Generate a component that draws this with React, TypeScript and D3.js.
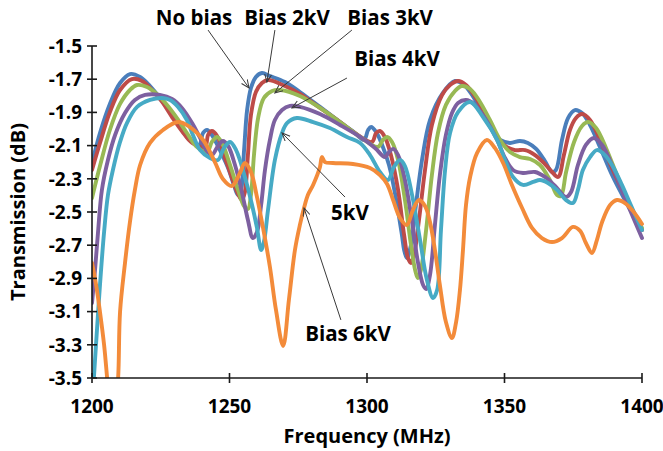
import React from 'react';
import * as d3 from 'd3';

// ---------- data ----------
const xTicks = [1200, 1250, 1300, 1350, 1400];
const yTicks = [-1.5, -1.7, -1.9, -2.1, -2.3, -2.5, -2.7, -2.9, -3.1, -3.3, -3.5];

const noBias: [number, number][] = [
  [1200, -2.205], [1202.9, -2.024], [1206.5, -1.849], [1210.2, -1.723], [1213.8, -1.669], [1217.5, -1.687],
  [1221.1, -1.741], [1224.7, -1.813], [1228.4, -1.898], [1232, -1.988], [1235.6, -2.066], [1238.9, -2.096],
  [1240.4, -2.024], [1241.8, -2.006], [1243.6, -2.036], [1246.5, -2.127], [1249.5, -2.235], [1251.6, -2.337],
  [1253.1, -2.398], [1254.2, -2.367], [1255.3, -2.127], [1256.4, -1.886], [1257.8, -1.753], [1259.6, -1.687],
  [1261.8, -1.663], [1264.7, -1.681], [1270.2, -1.717], [1275.6, -1.777], [1282.9, -1.867], [1290.2, -1.958],
  [1295.6, -2.024], [1298.9, -2.066], [1300.4, -2.006], [1301.5, -1.988], [1303.3, -2.018], [1305.5, -2.096],
  [1308, -2.217], [1310.5, -2.416], [1312.7, -2.639], [1313.5, -2.729], [1314.5, -2.777], [1316, -2.699],
  [1317.8, -2.458], [1320, -2.187], [1322.9, -1.946], [1327.6, -1.783], [1332, -1.711], [1334.9, -1.729],
  [1338.2, -1.795], [1341.8, -1.898], [1345.5, -2.006], [1348.4, -2.066], [1352, -2.084], [1355.6, -2.072],
  [1358.5, -2.084], [1361.5, -2.12], [1364.7, -2.193], [1367.3, -2.259], [1368.7, -2.247], [1370.9, -2.066],
  [1373.1, -1.934], [1375.6, -1.886], [1378.2, -1.904], [1381.1, -1.976], [1384.7, -2.108], [1389.1, -2.277],
  [1393.8, -2.428], [1397.5, -2.536], [1400, -2.608],
];

const bias2kV: [number, number][] = [
  [1200, -2.247], [1202.9, -2.084], [1206.5, -1.898], [1210.2, -1.765], [1214.5, -1.699], [1218.2, -1.711],
  [1221.8, -1.765], [1225.5, -1.837], [1229.1, -1.928], [1232.7, -2.012], [1236.4, -2.084], [1241.1, -2.108],
  [1242.2, -2.036], [1243.6, -2.012], [1245.5, -2.042], [1248, -2.157], [1250.9, -2.295], [1253.1, -2.392],
  [1254.5, -2.428], [1255.6, -2.38], [1256.7, -2.157], [1257.8, -1.916], [1259.6, -1.777], [1261.8, -1.723],
  [1264, -1.705], [1270.2, -1.741], [1275.6, -1.789], [1282.9, -1.873], [1290.2, -1.958], [1295.6, -2.024],
  [1301.8, -2.078], [1303.3, -2.024], [1304.7, -2.012], [1306.5, -2.048], [1308.7, -2.157], [1311.3, -2.367],
  [1313.5, -2.639], [1314.9, -2.777], [1316, -2.807], [1317.1, -2.759], [1318.9, -2.548], [1321.1, -2.247],
  [1323.6, -1.976], [1327.3, -1.795], [1330.2, -1.735], [1333.1, -1.711], [1336, -1.735], [1339.6, -1.813],
  [1343.3, -1.922], [1346.9, -2.036], [1350.2, -2.102], [1353.8, -2.127], [1357.5, -2.127], [1361.1, -2.157],
  [1364.7, -2.211], [1367.3, -2.259], [1369.5, -2.289], [1371.6, -2.157], [1373.8, -2.006], [1376, -1.934],
  [1378.2, -1.91], [1381.1, -1.946], [1384.7, -2.066], [1389.1, -2.235], [1393.8, -2.404], [1400, -2.608],
];

const bias3kV: [number, number][] = [
  [1200, -2.416], [1202.9, -2.223], [1206.5, -2.006], [1210.2, -1.849], [1213.8, -1.765], [1216.4, -1.735],
  [1220, -1.747], [1223.6, -1.789], [1227.3, -1.855], [1230.9, -1.934], [1234.5, -2.024], [1237.8, -2.102],
  [1241.8, -2.139], [1243.6, -2.078], [1245.5, -2.048], [1247.3, -2.084], [1250.2, -2.217], [1253.1, -2.367],
  [1255.3, -2.464], [1256.7, -2.482], [1257.8, -2.398], [1258.9, -2.157], [1260.4, -1.934], [1262.5, -1.813],
  [1265.5, -1.771], [1268.4, -1.765], [1275.6, -1.801], [1282.9, -1.873], [1290.2, -1.958], [1297.5, -2.048],
  [1304, -2.108], [1305.8, -2.066], [1307.3, -2.048], [1309.1, -2.078], [1311.3, -2.187], [1313.8, -2.428],
  [1316, -2.699], [1317.5, -2.849], [1318.5, -2.898], [1319.6, -2.849], [1321.5, -2.608], [1323.6, -2.277],
  [1325.8, -2.024], [1328.7, -1.855], [1332, -1.771], [1334.5, -1.741], [1337.5, -1.759], [1341.1, -1.837],
  [1344.7, -1.946], [1348.4, -2.066], [1352, -2.139], [1355.6, -2.169], [1359.3, -2.181], [1362.9, -2.217],
  [1366.5, -2.307], [1369.1, -2.398], [1370.5, -2.404], [1372.4, -2.259], [1375.3, -2.078], [1378.2, -1.982],
  [1380.4, -1.958], [1383.3, -1.994], [1386.9, -2.114], [1391.3, -2.295], [1395.6, -2.458], [1400, -2.596],
];

const bias4kV: [number, number][] = [
  [1200, -3.048], [1201.1, -2.849], [1202.2, -2.62], [1203.6, -2.367], [1205.8, -2.187], [1208.4, -2.036],
  [1212, -1.904], [1215.6, -1.825], [1219.3, -1.795], [1224.7, -1.795], [1229.1, -1.819], [1232.7, -1.873],
  [1236.4, -1.964], [1239.3, -2.054], [1241.5, -2.127], [1243.6, -2.157], [1245.8, -2.102], [1247.6, -2.072],
  [1249.5, -2.102], [1252, -2.217], [1254.5, -2.38], [1256.7, -2.548], [1258.5, -2.657], [1260, -2.62],
  [1261.5, -2.458], [1262.9, -2.247], [1264.7, -2.066], [1266.5, -1.946], [1269.1, -1.886], [1272, -1.861],
  [1275.6, -1.867], [1282.9, -1.91], [1290.2, -1.976], [1297.5, -2.048], [1302.9, -2.114], [1306.5, -2.169],
  [1308, -2.139], [1309.5, -2.12], [1311.3, -2.157], [1313.8, -2.307], [1316.4, -2.56], [1318.5, -2.801],
  [1320.4, -2.94], [1321.5, -2.964], [1322.9, -2.88], [1324.7, -2.578], [1326.5, -2.277], [1328.7, -2.036],
  [1330.9, -1.904], [1333.1, -1.843], [1336, -1.825], [1338.9, -1.849], [1342.9, -1.934], [1347.3, -2.066],
  [1350.2, -2.175], [1353.1, -2.247], [1356.7, -2.265], [1361.1, -2.259], [1364.7, -2.289], [1368.4, -2.343],
  [1372.4, -2.41], [1374.2, -2.38], [1376.7, -2.217], [1379.6, -2.096], [1382.5, -2.054], [1385.5, -2.096],
  [1389.1, -2.217], [1393.8, -2.416], [1397.5, -2.56], [1400, -2.657],
];

const bias5kV: [number, number][] = [
  [1200.3, -3.6], [1201.8, -3.211], [1202.9, -2.94], [1204.4, -2.62], [1205.8, -2.398], [1207.6, -2.247],
  [1210.2, -2.078], [1212.7, -1.964], [1216.4, -1.867], [1221.1, -1.825], [1225.5, -1.813], [1228.4, -1.825],
  [1231.3, -1.867], [1234.5, -1.946], [1236.7, -2.036], [1239.3, -2.127], [1242.9, -2.175], [1245.8, -2.187],
  [1248, -2.114], [1250.2, -2.078], [1252.4, -2.127], [1255.6, -2.289], [1258.2, -2.458], [1260, -2.596],
  [1261.5, -2.729], [1262.5, -2.681], [1264, -2.488], [1266.5, -2.187], [1269.1, -2.024], [1270.9, -1.964],
  [1274.5, -1.934], [1280.4, -1.958], [1286.5, -1.994], [1292.7, -2.048], [1297.5, -2.084], [1301.1, -2.157],
  [1304.7, -2.259], [1307.6, -2.307], [1309.8, -2.229], [1312, -2.187], [1313.8, -2.223], [1316.4, -2.398],
  [1319.3, -2.669], [1321.8, -2.91], [1324, -3.018], [1325.5, -2.97], [1326.9, -2.608], [1328.4, -2.247],
  [1330.2, -2.024], [1333.1, -1.898], [1337.5, -1.837], [1342.2, -1.928], [1347.3, -2.066], [1350.2, -2.187],
  [1353.1, -2.289], [1356.7, -2.337], [1360.4, -2.319], [1362.9, -2.307], [1365.8, -2.325], [1369.1, -2.367],
  [1372.4, -2.428], [1374.9, -2.446], [1376.7, -2.367], [1378.5, -2.247], [1381.1, -2.169], [1383.6, -2.127],
  [1386.5, -2.157], [1389.5, -2.229], [1392.7, -2.337], [1395.6, -2.446], [1400, -2.608],
];

const bias6kV: [number, number][] = [
  [1200, -2.807], [1201.5, -2.94], [1202.9, -3.102], [1204.4, -3.301], [1205.5, -3.5], [1206.5, -3.693],
  [1208.4, -3.693], [1209.5, -3.5], [1210.2, -3.102], [1212, -2.807], [1213.8, -2.56], [1215.6, -2.367],
  [1217.5, -2.217], [1221.1, -2.084], [1225.8, -2.006], [1231.3, -1.958], [1235.6, -1.988], [1240.4, -2.066],
  [1244.7, -2.199], [1247.6, -2.301], [1250.9, -2.343], [1253.8, -2.265], [1255.6, -2.205], [1257.8, -2.259],
  [1260, -2.41], [1262.2, -2.596], [1264.7, -2.831], [1266.9, -3.09], [1269.5, -3.307], [1271.6, -3.03],
  [1273.8, -2.729], [1275.6, -2.578], [1277.1, -2.476], [1278.5, -2.398], [1280.4, -2.337], [1282.9, -2.229],
  [1283.6, -2.169], [1284.7, -2.199], [1287.6, -2.205], [1294.9, -2.211], [1301.1, -2.235], [1304.7, -2.277],
  [1307.3, -2.331], [1309.5, -2.428], [1312, -2.536], [1314.5, -2.578], [1316.7, -2.488], [1318.9, -2.428],
  [1321.1, -2.464], [1322.9, -2.56], [1324.7, -2.729], [1326.5, -2.94], [1328.7, -3.163], [1330.9, -3.259],
  [1332.4, -3.163], [1333.8, -2.97], [1334.9, -2.729], [1336, -2.458], [1337.5, -2.289], [1340, -2.145],
  [1343.6, -2.066], [1346.5, -2.114], [1349.5, -2.205], [1352.7, -2.337], [1356.4, -2.476], [1360, -2.596],
  [1363.6, -2.657], [1367.3, -2.681], [1370.9, -2.657], [1374.9, -2.59], [1377.5, -2.614], [1379.6, -2.687],
  [1381.8, -2.747], [1383.6, -2.669], [1385.5, -2.56], [1388.4, -2.458], [1390.9, -2.428], [1393.8, -2.446],
  [1396.7, -2.494], [1400, -2.572],
];

const seriesNames = ['No bias', 'Bias 2kV', 'Bias 3kV', 'Bias 4kV', 'Bias 5kV', 'Bias 6kV'];
const seriesData = [noBias, bias2kV, bias3kV, bias4kV, bias5kV, bias6kV];
const seriesColors = ['#4A7EBB', '#BE4B48', '#98B954', '#7D60A0', '#46AAC5', '#F38B3A'];

// annotation labels: text, text anchor (freq, dB), arrow start (freq, dB), arrow end (freq, dB)
const annotationLabels = ['No bias', 'Bias 2kV', 'Bias 3kV', 'Bias 4kV', '5kV', 'Bias 6kV'];
const annotationText: [number, number][] = [
  [1237.1, -1.373], [1270.9, -1.373], [1308.4, -1.373], [1310.9, -1.62], [1293.8, -2.548], [1293.1, -3.277],
];
const annotationFrom: [number, number][] = [
  [1242.2, -1.404], [1266.5, -1.404], [1294.5, -1.404], [1292.7, -1.693], [1292, -2.41], [1290.5, -3.15],
];
const annotationTo: [number, number][] = [
  [1257.1, -1.753], [1263.6, -1.717], [1266.5, -1.783], [1272.7, -1.873], [1269.1, -2.024], [1277.1, -2.476],
];

export default function App() {
  const W = 663;
  const H = 451;
  const left = 92, right = 642, top = 46, bottom = 378;
  const x = d3.scaleLinear().domain([1200, 1400]).range([left, right]);
  const y = d3.scaleLinear().domain([-3.5, -1.5]).range([bottom, top]);
  const line = d3
    .line<[number, number]>()
    .x((d) => x(d[0]))
    .y((d) => y(d[1]))
    .curve(d3.curveCatmullRom.alpha(0.5));

  const font = "'Open Sans', 'Noto Sans', sans-serif";
  const axisColor = '#1a1a1a';
  const arrowColor = '#3a3a3a';

  return (
    <svg
      width={W}
      height={H}
      viewBox={`0 0 ${W} ${H}`}
      style={{ position: 'absolute', left: 0, top: 0, display: 'block', background: '#fff' }}
    >
      <defs>
        <clipPath id="plotClip">
          <rect x={left} y={top - 10} width={right - left + 2} height={bottom - top + 10} />
        </clipPath>
        <marker
          id="arrowHead"
          markerWidth={10}
          markerHeight={10}
          refX={8}
          refY={4}
          orient="auto"
          markerUnits="userSpaceOnUse"
        >
          <path d="M0,0.5 L8,4 L0,7.5" fill="none" stroke={arrowColor} strokeWidth={1} />
        </marker>
      </defs>

      <rect x={0} y={0} width={W} height={H} fill="#fff" />

      {/* series */}
      <g clipPath="url(#plotClip)">
        {seriesData.map((s, i) => (
          <path
            key={seriesNames[i]}
            d={line(s) || ''}
            fill="none"
            stroke={seriesColors[i]}
            strokeWidth={3.9}
            strokeLinejoin="round"
            strokeLinecap="round"
          />
        ))}
      </g>

      {/* axes */}
      <line x1={left} y1={top} x2={left} y2={bottom} stroke={axisColor} strokeWidth={1.6} />
      <line x1={left} y1={bottom} x2={right} y2={bottom} stroke={axisColor} strokeWidth={1.6} />
      {yTicks.map((t) => (
        <g key={`y${t}`}>
          <line x1={left - 5} x2={left + 5} y1={y(t)} y2={y(t)} stroke={axisColor} strokeWidth={1.6} />
          <text
            x={left - 10}
            y={y(t)}
            dy="0.36em"
            textAnchor="end"
            fontFamily={font}
            fontWeight={700}
            fontSize={19}
            fill="#000"
          >
            {t.toFixed(1)}
          </text>
        </g>
      ))}
      {xTicks.map((t) => (
        <g key={`x${t}`}>
          <line x1={x(t)} x2={x(t)} y1={bottom - 5} y2={bottom + 5} stroke={axisColor} strokeWidth={1.6} />
          <text
            x={x(t)}
            y={bottom + 35}
            textAnchor="middle"
            fontFamily={font}
            fontWeight={700}
            fontSize={19}
            fill="#000"
          >
            {t}
          </text>
        </g>
      ))}

      {/* axis titles */}
      <text
        x={(left + right) / 2}
        y={443}
        textAnchor="middle"
        fontFamily={font}
        fontWeight={700}
        fontSize={20}
        fill="#000"
      >
        Frequency (MHz)
      </text>
      <text
        transform={`translate(25, ${(top + bottom) / 2}) rotate(-90)`}
        textAnchor="middle"
        fontFamily={font}
        fontWeight={700}
        fontSize={20}
        fill="#000"
      >
        Transmission (dB)
      </text>

      {/* annotations */}
      {annotationLabels.map((lab, i) => (
        <g key={lab}>
          <line
            x1={x(annotationFrom[i][0])}
            y1={y(annotationFrom[i][1])}
            x2={x(annotationTo[i][0])}
            y2={y(annotationTo[i][1])}
            stroke={arrowColor}
            strokeWidth={1}
            markerEnd="url(#arrowHead)"
          />
          <text
            x={x(annotationText[i][0])}
            y={y(annotationText[i][1])}
            textAnchor="middle"
            fontFamily={font}
            fontWeight={700}
            fontSize={20.5}
            fill="#000"
          >
            {lab}
          </text>
        </g>
      ))}
    </svg>
  );
}
